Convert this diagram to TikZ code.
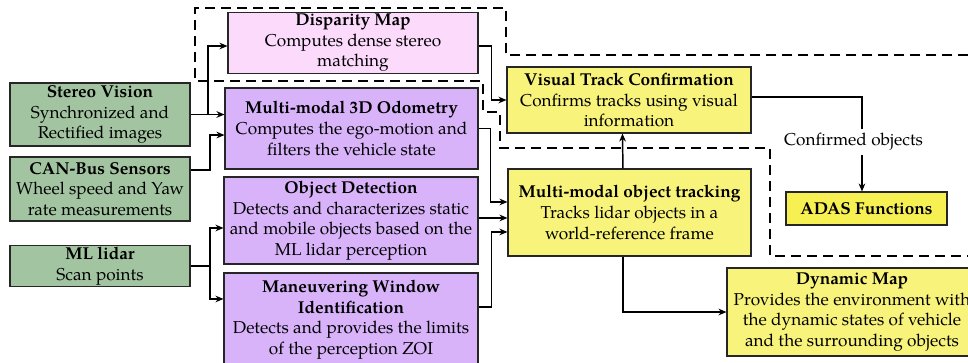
\documentclass[tikz,border=0pt]{standalone}
\usepackage{fontspec}
\setmainfont{texgyrepagella}[Extension=.otf, UprightFont=*-regular, BoldFont=*-bold, ItalicFont=*-italic, BoldItalicFont=*-bolditalic]
\usetikzlibrary{arrows.meta}

\definecolor{sensorgreen}{RGB}{162,196,161}
\definecolor{stereopink}{RGB}{252,218,252}
\definecolor{procviolet}{RGB}{216,179,250}
\definecolor{trackyellow}{RGB}{248,243,122}
\definecolor{adasyellow}{RGB}{247,240,82}

\newcommand{\boxfont}{\fontsize{12.9pt}{15.4pt}\selectfont}

\tikzset{
  box/.style={draw=black!85, line width=0.8pt, align=center, inner sep=1pt,
    font=\boxfont},
  sensor/.style={box, fill=sensorgreen},
  arr/.style={line width=1.1pt, -{Stealth[length=6pt,width=5pt]}},
  wire/.style={line width=1.1pt},
  zone/.style={line width=1.3pt, dash pattern=on 7.5pt off 4.5pt},
}

\begin{document}
\begin{tikzpicture}[x=0.75pt, y=-0.75pt]
\clip (0,0) rectangle (968,362);
\fill[white] (0,0) rectangle (968,362);

% sensors
\node[sensor, minimum width=180*0.75pt, minimum height=63*0.75pt] (sv) at (100,114.5)
  {\textbf{Stereo Vision}\\Synchronized and\\Rectified images};
\node[sensor, minimum width=180*0.75pt, minimum height=64*0.75pt] (can) at (100,189)
  {\textbf{CAN-Bus Sensors}\\Wheel speed and Yaw\\rate measurements};
\node[sensor, minimum width=180*0.75pt, minimum height=40*0.75pt] (ml) at (100,266)
  {\textbf{ML lidar}\\Scan points};

% processing blocks
\node[box, fill=stereopink, minimum width=250*0.75pt, minimum height=60*0.75pt] (dm) at (353,43)
  {\textbf{Disparity Map}\\Computes dense stereo\\matching};
\node[box, fill=procviolet, minimum width=253*0.75pt, minimum height=81*0.75pt] (od) at (351.5,128.5)
  {\textbf{Multi-modal 3D Odometry}\\Computes the ego-motion and\\filters the vehicle state};
\node[box, fill=procviolet, minimum width=254*0.75pt, minimum height=87*0.75pt] (obj) at (351,220.5)
  {\textbf{Object Detection}\\Detects and characterizes static\\and mobile objects based on the\\ML lidar perception};
\node[box, fill=procviolet, minimum width=254*0.75pt, minimum height=93*0.75pt] (mw) at (351,319.5)
  {\textbf{Maneuvering Window}\\\textbf{Identification}\\Detects and provides the limits\\of the perception ZOI};

% tracking and outputs
\node[box, fill=trackyellow, minimum width=244*0.75pt, minimum height=66*0.75pt] (vt) at (629,100)
  {\textbf{Visual Track Confirmation}\\Confirms tracks using visual\\information};
\node[box, fill=trackyellow, minimum width=243*0.75pt, minimum height=87*0.75pt] (tr) at (629.5,212.5)
  {\textbf{Multi-modal object tracking}\\Tracks lidar objects in a\\world-reference frame};
\node[box, fill=adasyellow, minimum width=161*0.75pt, minimum height=33*0.75pt] (adas) at (866.5,208.5)
  {\textbf{ADAS Functions}};
\node[box, fill=trackyellow, minimum width=250*0.75pt, minimum height=88*0.75pt] (dyn) at (852,312)
  {\textbf{Dynamic Map}\\Provides the environment with\\the dynamic states of vehicle\\and the surrounding objects};

% dashed zone around the vision branch
\draw[zone] (968,55) -- (506,55) -- (506,8) -- (195,8) -- (195,81) -- (483,81)
  -- (483,112) -- (500,112) -- (500,148) -- (770,148) -- (770,256) -- (968,256);

% stereo vision feeds odometry and disparity
\coordinate (split) at (208,114.5);
\draw[arr] (sv.east) -- (sv.east -| od.west);
\draw[arr] (split) |- ([yshift=-2.25pt]dm.west);

% CAN bus to odometry
\coordinate (cbend) at (210,170);
\draw[arr] (can.east |- cbend) -- (cbend) |- ([yshift=-4.9pt]od.west);

% lidar to detection and maneuvering window
\coordinate (lbend) at (210,266);
\draw[wire] (ml.east) -- (lbend);
\draw[arr] (lbend) |- ([yshift=-5.6pt]obj.west);
\draw[arr] (lbend) |- ([yshift=15.4pt]mw.west);

% disparity to visual confirmation
\draw[arr] ([yshift=-2.25pt]dm.east) -- ++(9.75pt,0) |- (vt.west);

% inputs of the tracker
\draw[arr] (od.east) -- ++(9pt,0) |- ([yshift=7.9pt]tr.west);
\draw[arr] ([yshift=1.9pt]obj.east) -- ([yshift=1.9pt]obj.east -| tr.west);
\draw[arr] ([yshift=9.4pt]mw.east) -- ++(9.75pt,0) |- ([yshift=-14.6pt]tr.west);

% tracker outputs
\draw[arr] ([xshift=-4.9pt]tr.north) -- ([xshift=-4.9pt]vt.south);
\draw[arr] ([xshift=-4.9pt]tr.south) |- (dyn.west);

% confirmed objects to ADAS
\draw[arr] ([yshift=2.25pt]vt.east) -| ([xshift=-3.4pt]adas.north);
\node[fill=white, inner xsep=1pt, inner ysep=3pt, font=\boxfont] (conf) at (853.5,142) {Confirmed objects};
\end{tikzpicture}
\end{document}
